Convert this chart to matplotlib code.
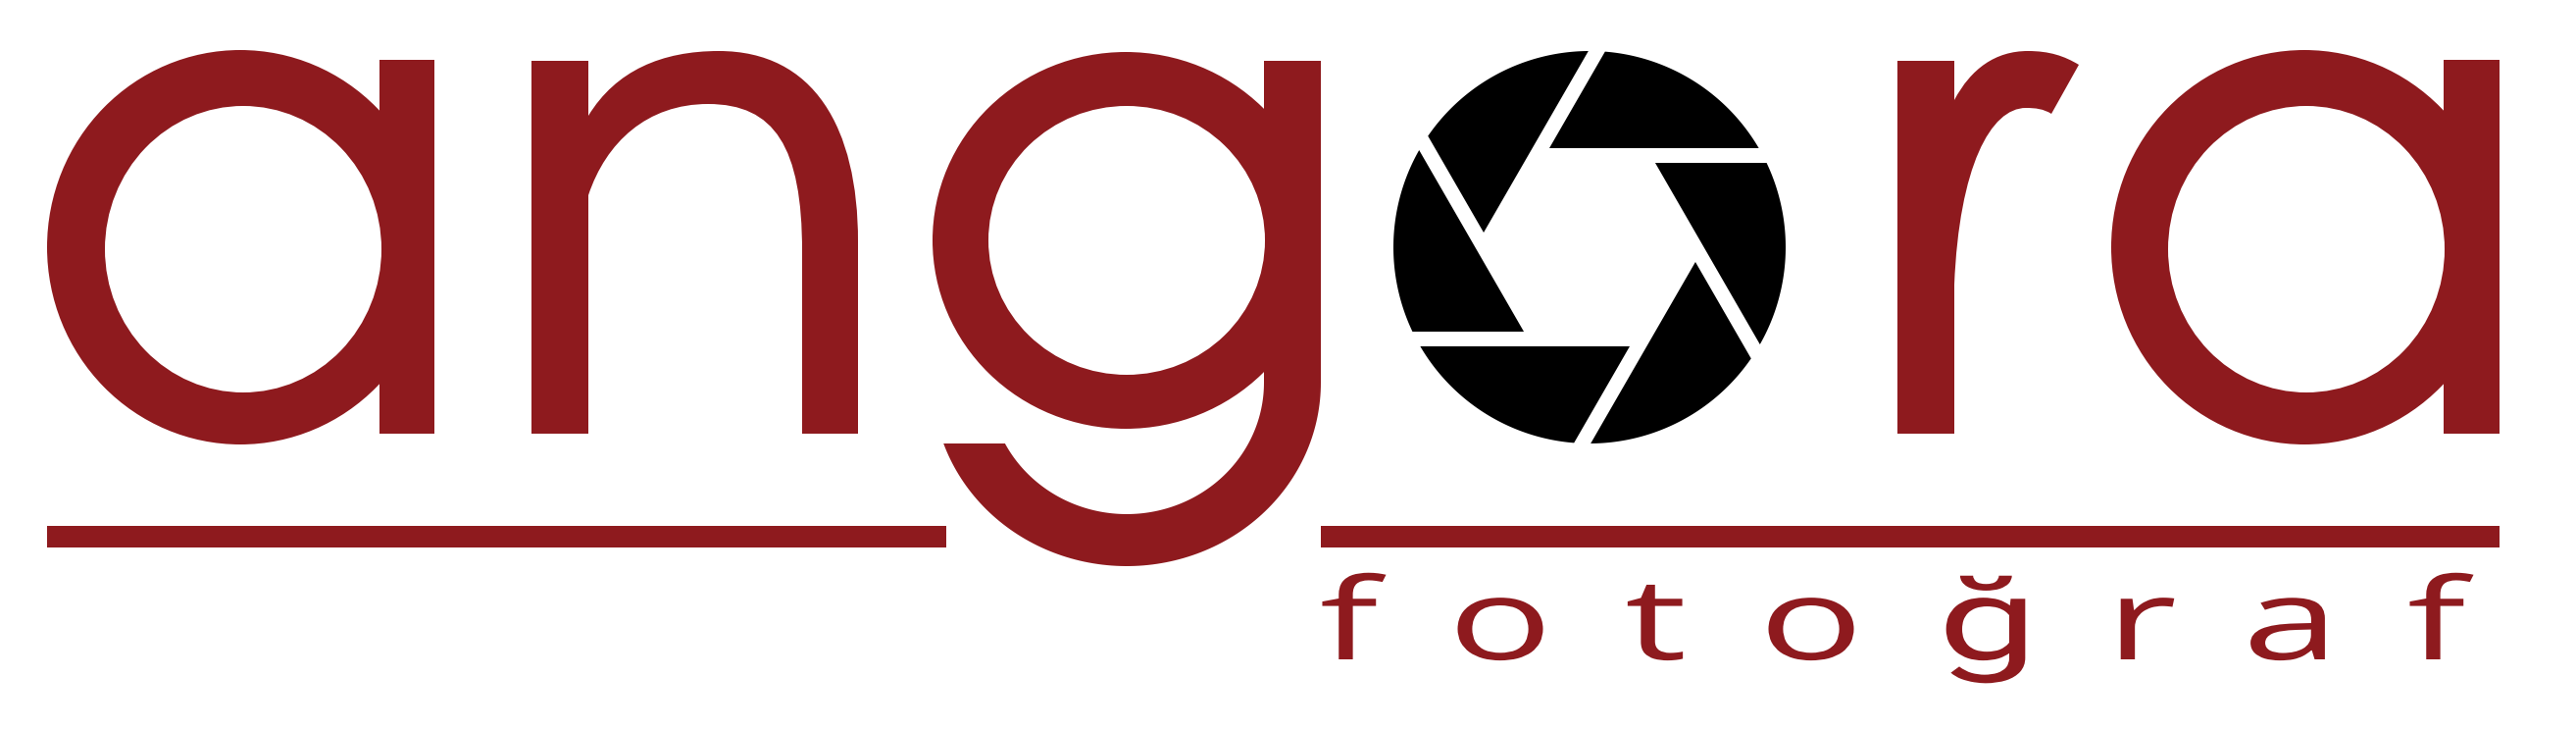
import numpy as np
import matplotlib
matplotlib.use("Agg")
from matplotlib import pyplot as plt
from matplotlib.patches import Ellipse, Rectangle, Polygon, PathPatch
from matplotlib.path import Path
from matplotlib.textpath import TextPath
from matplotlib.font_manager import FontProperties
from matplotlib.transforms import Affine2D

RED = '#8E1A1E'
W, H = 2627, 743

# big letters "a", "a", "g": bowl = outer ellipse minus counter
bowl_cx = [245, 2350, 1148]
bowl_cy = [252, 252, 245]
bowl_rx = [197, 197, 197]
bowl_ry = [201, 201, 192]
counter_cx = [248, 2352, 1149]
counter_cy = [254, 254, 245]
counter_rx = [141, 141, 141]
counter_ry = [146, 146, 137]

# straight stems: a, a, g, n-left, n-right, r
stem_x0 = [387, 2492, 1289, 542, 818, 1935]
stem_x1 = [443, 2549, 1347, 600, 875, 1993]
stem_y0 = [61, 61, 62, 62, 246, 62]
stem_y1 = [442, 442, 390, 442, 442, 442]

# g descender (ring, lower half, left end cut flat)
desc_c = (1149, 390)
desc_outer = (198, 187)
desc_inner = (140, 134)
desc_cut_y = 452

# n arch and r arm (bezier outlines)
n_arch = [(600, 199), (600, 118), (628, 72), (675, 52), (733, 52),
          (830, 52), (875, 130), (875, 246), (875, 300), (818, 300),
          (818, 256), (818, 150), (790, 106), (722, 106),
          (660, 106), (618, 145), (600, 199), (600, 199)]
n_codes = [1, 2, 4, 4, 4, 4, 4, 4, 2, 2, 2, 4, 4, 4, 4, 4, 4, 79]
r_arm = [(1993, 102), (2010, 70), (2035, 52), (2068, 52),
         (2090, 52), (2105, 57), (2120, 66), (2092, 116),
         (2084, 111), (2076, 110), (2066, 110),
         (2030, 110), (1998, 170), (1993, 290), (1993, 102)]
r_codes = [1, 4, 4, 4, 4, 4, 4, 2, 4, 4, 4, 4, 4, 4, 79]

# underline bars
rule_x0 = [48, 1347]
rule_x1 = [965, 2549]
rule_y0, rule_y1 = 536, 558

# camera aperture in place of the "o"
ap_cx, ap_cy, ap_r = 1621, 252, 200
blade_angles = [270, 210, 150, 90, 30, 330]
apothem, gap = 101, 15

# small word underneath
small_letters = list("fotoğraf")
small_fonts = ['Open Sans'] * 4 + ['Roboto'] + ['Open Sans'] * 3
small_cx = [1381, 1530, 1688, 1847, 2025, 2190, 2333, 2490]
small_base = 672
o_width, o_height = 87, 64


def clip_half(pts, n, c):
    # keep the part of polygon pts with p.n >= c
    out = []
    m = len(pts)
    for i in range(m):
        p, q = pts[i], pts[(i + 1) % m]
        dp, dq = p @ n - c, q @ n - c
        if dp >= 0:
            out.append(p)
        if dp * dq < 0:
            t = dp / (dp - dq)
            out.append(p + t * (q - p))
    return np.array(out)


fig = plt.figure(figsize=(W / 100, H / 100), dpi=100)
ax = fig.add_axes([0, 0, 1, 1])
ax.set_xlim(0, W)
ax.set_ylim(H, 0)
ax.axis('off')

for i in range(len(bowl_cx)):
    ax.add_patch(Ellipse((bowl_cx[i], bowl_cy[i]), 2 * bowl_rx[i], 2 * bowl_ry[i], fc=RED, lw=0))
for i in range(len(stem_x0)):
    ax.add_patch(Rectangle((stem_x0[i], stem_y0[i]), stem_x1[i] - stem_x0[i],
                           stem_y1[i] - stem_y0[i], fc=RED, lw=0))
for i in range(len(counter_cx)):
    ax.add_patch(Ellipse((counter_cx[i], counter_cy[i]), 2 * counter_rx[i], 2 * counter_ry[i],
                         fc='white', lw=0))

# g tail
cx, cy = desc_c
t_o = np.linspace(0, np.pi - np.arcsin((desc_cut_y - cy) / desc_outer[1]), 120)
t_i = np.linspace(np.pi - np.arcsin((desc_cut_y - cy) / desc_inner[1]), 0, 120)
tail = np.vstack([np.c_[cx + desc_outer[0] * np.cos(t_o), cy + desc_outer[1] * np.sin(t_o)],
                  np.c_[cx + desc_inner[0] * np.cos(t_i), cy + desc_inner[1] * np.sin(t_i)]])
ax.add_patch(Polygon(tail, closed=True, fc=RED, lw=0))

ax.add_patch(PathPatch(Path(n_arch, n_codes), fc=RED, lw=0))
ax.add_patch(PathPatch(Path(r_arm, r_codes), fc=RED, lw=0))

for x0, x1 in zip(rule_x0, rule_x1):
    ax.add_patch(Rectangle((x0, rule_y0), x1 - x0, rule_y1 - rule_y0, fc=RED, lw=0))

# aperture blades
tt = np.linspace(0, 2 * np.pi, 721)[:-1]
disc = np.c_[ap_r * np.cos(tt), ap_r * np.sin(tt)]
for a in blade_angles:
    n1 = np.array([np.cos(np.radians(a)), np.sin(np.radians(a))])
    n0 = np.array([np.cos(np.radians(a - 60)), np.sin(np.radians(a - 60))])
    blade = clip_half(disc, n1, apothem)
    blade = clip_half(blade, -n0, -(apothem - gap))
    ax.add_patch(Polygon(blade + [ap_cx, ap_cy], closed=True, fc='black', lw=0))

# fotoğraf, stretched wide; scale per font from its own "o"
for ch, fam, x in zip(small_letters, small_fonts, small_cx):
    fp = FontProperties(family=fam)
    ob = TextPath((0, 0), 'o', size=100, prop=fp).get_extents()
    sx, sy = o_width / ob.width, o_height / ob.height
    tp = TextPath((0, 0), ch, size=100, prop=fp)
    bb = tp.get_extents()
    tr = Affine2D().translate(-(bb.x0 + bb.x1) / 2, 0).scale(sx, -sy).translate(x, small_base)
    ax.add_patch(PathPatch(tr.transform_path(tp), fc=RED, lw=0))

fig.savefig('out.png', dpi=100, facecolor='white')
